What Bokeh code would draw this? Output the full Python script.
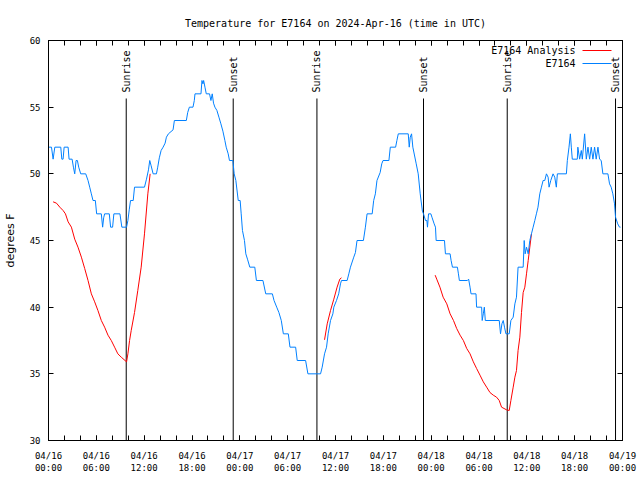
import math
from bokeh.plotting import figure
from bokeh.models import Range1d, FixedTicker, LinearAxis, Label, ColumnDataSource
from bokeh.core.properties import value
from bokeh.embed import file_html
from bokeh.resources import INLINE

# ---------------- data (hours since 2024-04-16 00:00 UTC, degrees F) ----------------
obs_hours = [0.04, 0.375, 0.58, 0.79, 1.54, 1.67, 1.83, 1.96, 2.46, 2.58, 2.96, 3.125, 3.29, 3.46, 3.625,
             3.79, 4.04, 4.67, 4.96, 5.17, 5.375, 5.58, 5.875, 6.04, 6.625, 6.79, 6.92, 7.04, 7.625, 7.79,
             8.04, 8.2, 8.96, 9.2, 9.79, 9.96, 10.125, 10.29, 10.625, 10.79, 12.04, 12.29, 12.54, 12.7,
             12.875, 13.125, 13.54, 13.7, 13.9, 14.125, 14.375, 14.625, 14.79, 15.04, 15.625, 15.79, 17.29,
             17.46, 17.67, 18.125, 18.29, 18.375, 19.125, 19.25, 19.375, 19.46, 19.625, 19.79, 20.2, 20.375,
             20.54, 20.7, 20.875, 21.125, 21.375, 21.625, 21.875, 22.125, 22.29, 22.54, 22.7, 23.125, 23.29,
             23.5, 23.8, 24.04, 24.17, 24.33, 24.58, 24.75, 24.96, 25.25, 25.875, 26.08, 26.9, 27.25, 28.08,
             28.29, 28.625, 28.9, 29.2, 29.46, 30.08, 30.29, 31.0, 31.2, 32.25, 32.54, 34.125, 34.33, 34.625,
             34.875, 35.08, 35.375, 35.67, 35.79, 36.125, 36.4, 36.625, 36.75, 37.46, 37.67, 37.875, 38.29,
             38.5, 38.7, 39.5, 39.75, 39.96, 40.6, 40.79, 41.0, 41.2, 41.6, 41.8, 41.96, 42.7, 42.875, 43.54,
             43.7, 43.875, 45.125, 45.25, 45.375, 45.54, 45.7, 46.125, 46.375, 46.625, 46.9, 47.04, 47.29,
             47.46, 47.54, 47.67, 47.96, 48.125, 48.375, 48.54, 48.625, 49.67, 49.79, 50.375, 50.5, 50.67,
             51.29, 51.42, 51.54, 52.54, 52.7, 52.875, 53.0, 53.625, 53.7, 54.33, 54.4, 54.54, 54.67, 54.79,
             56.54, 56.7, 56.875, 57.04, 57.2, 57.375, 57.79, 58.0, 58.29, 58.5, 58.7, 58.9, 59.54, 59.67,
             59.79, 59.96, 60.17, 60.375, 60.58, 60.79, 61.0, 61.2, 61.4, 61.625, 61.83, 62.04, 62.25, 62.46,
             62.67, 62.79, 63.0, 63.29, 63.5, 63.7, 63.83, 64.96, 65.08, 65.29, 65.46, 65.58, 65.7, 66.33,
             66.4, 66.625, 66.83, 66.96, 67.25, 67.46, 67.67, 67.875, 68.08, 68.29, 68.5, 68.7, 68.92, 69.125,
             69.33, 69.54, 70.17, 70.375, 70.58, 70.79, 71.0, 71.125, 71.4, 71.625, 71.75]
obs_temps = [52, 52, 51.1, 52, 52, 51.1, 51.1, 52, 52, 51.1, 51.1, 50.5, 50, 51, 51,
             50.5, 50, 50, 49.5, 49, 48.5, 48, 48, 47, 47, 46, 46.7, 47, 47, 46,
             46, 47, 47, 46, 46, 46.5, 47.3, 48, 48, 49, 49, 49.6, 50.3, 51,
             50.6, 50, 50, 50.5, 51.2, 51.75, 52, 52.3, 52.75, 53, 53.3, 54, 54,
             54.6, 55, 55, 55.5, 56, 56, 57, 56.75, 57, 56.5, 56, 56, 55.5,
             56, 55.3, 55, 54.75, 54.25, 53.75, 53.2, 52.5, 52, 51.5, 51, 51, 50,
             49.5, 48, 48, 47, 45.75, 45, 44, 43.6, 43, 43, 42, 42, 41, 41,
             40.5, 40, 39.6, 39, 38, 38, 37, 37, 36, 36, 35, 35, 35.5, 36.5,
             37, 38, 39, 39.5, 40, 40.5, 41, 41.75, 42, 42, 42.5, 43, 43.75,
             44.1, 45, 45, 46, 47, 47, 48, 48.5, 49.5, 50.1, 50.75, 51, 51, 52, 52,
             52.5, 53, 53, 52, 52.75, 53, 52, 50.75, 50, 48.5, 47.2, 47, 46.5,
             46.5, 46, 47, 47, 46.7, 46.25, 46, 45, 45, 44, 44, 43.5, 43,
             43, 42.5, 42, 42, 42.1, 41.5, 41, 41, 40, 40, 39, 39.5, 40, 39,
             39, 38, 38.75, 39, 38.5, 38, 38, 39, 39.25, 40.25, 40.75, 43, 43, 45,
             44, 44.5, 44, 45, 45.5, 46, 46.5, 47, 47.5, 48.5, 49, 49.5, 49.5, 50,
             49.75, 49, 49.5, 50, 49.75, 49, 50, 50, 51, 52, 53, 52, 51.1, 51.1,
             52, 51.1, 51.75, 51.1, 53, 51.1, 52, 51.1, 52, 51.1, 52, 51.1, 52, 51.1,
             51, 50, 50, 49.25, 49, 48.5, 47.75, 46.75, 46.25, 46, 46]

nan = float("nan")
ana_hours = [0.58, 1.0, 1.42, 1.83, 2.125, 2.46, 2.875, 3.29, 3.7, 4.125, 4.54, 4.96, 5.375, 5.79, 6.2,
             6.625, 7.04, 7.46, 7.875, 8.29, 8.7, 9.125, 9.79, 9.96, 10.17, 10.375, 10.79, 11.2, 11.625,
             12.04, 12.46, 12.75, 13.0,
             34.625, 34.96, 35.375, 35.79, 36.2, 36.54, 36.75, 37.0,
             48.5, 48.7, 49.1, 49.5, 49.96, 50.375, 50.8, 51.2, 51.625, 52.04, 52.46, 52.875, 53.29, 53.7,
             54.125, 54.54, 54.96, 55.375, 55.79, 56.2, 56.54, 56.83, 57.46, 57.79, 58.0, 58.29, 58.5, 58.7,
             58.9, 59.125, 59.33, 59.54, 59.75, 59.96, 60.17, 60.375, 60.58]
ana_temps = [47.9, 47.8, 47.5, 47.25, 47, 46.4, 46, 45.1, 44.5, 43.75, 42.9, 42, 41, 40.4, 39.75,
             39, 38.5, 37.9, 37.5, 37, 36.5, 36.25, 35.9, 36.5, 37.5, 38.25, 39.6, 41.25, 43,
             45.5, 48.5, 50, nan,
             37.55, 38.75, 39.75, 40.6, 41.5, 42.1, 42.2, nan,
             42.4, 42.1, 41.5, 40.75, 40.25, 39.5, 39, 38.4, 37.9, 37.5, 36.9, 36.5, 35.9, 35.4,
             34.9, 34.4, 34, 33.6, 33.4, 33.25, 33, 32.5, 32.3, 32.25, 33, 34, 34.75, 35.25,
             36.75, 37.75, 39.6, 41.1, 41.5, 42.5, 43.5, 44.5, 45.5]

sun_hours = [9.75, 23.17, 33.67, 47.04, 57.54, 71.125]
sun_labels = ["Sunrise", "Sunset", "Sunrise", "Sunset", "Sunrise", "Sunset"]

tick_hours = [0, 6, 12, 18, 24, 30, 36, 42, 48, 54, 60, 66, 72]
tick_dates = ["04/16", "04/16", "04/16", "04/16", "04/17", "04/17", "04/17", "04/17",
              "04/18", "04/18", "04/18", "04/18", "04/19"]
tick_times = ["00:00", "06:00", "12:00", "18:00", "00:00", "06:00", "12:00", "18:00",
              "00:00", "06:00", "12:00", "18:00", "00:00"]
minor_hours = list(range(0, 73, 2))
y_ticks = [30, 35, 40, 45, 50, 55, 60]

TITLE = "Temperature for E7164 on 2024-Apr-16 (time in UTC)"
Y_LABEL = "degrees F"
SERIES = ["E7164 Analysis", "E7164"]
COLORS = ["#ff0000", "#0080ff"]

# ---------------- layout ----------------
X0, X1, Y0, Y1 = 0, 72, 30, 60
FW, FH = 574, 400
PXH = FW / (X1 - X0)    # px per hour
PXD = FH / (Y1 - Y0)    # px per degree
MONO = "DejaVu Sans Mono"

p = figure(frame_width=FW, frame_height=FH, x_range=Range1d(X0, X1), y_range=Range1d(Y0, Y1),
           output_backend="svg", toolbar_location=None,
           min_border_left=47, min_border_top=40, min_border_right=19, min_border_bottom=38,
           background_fill_color="white", border_fill_color="white")
p.xgrid.visible = False
p.ygrid.visible = False
p.outline_line_color = "black"
p.outline_line_width = 1

p.title.text = TITLE
p.title.align = "center"
p.title.text_font = MONO
p.title.text_font_size = "10px"
p.title.text_font_style = "normal"
p.title.text_color = "black"
p.title.standoff = 24

xt = FixedTicker(ticks=tick_hours, minor_ticks=minor_hours)
yt = FixedTicker(ticks=y_ticks, minor_ticks=[])

for ax in p.xaxis:
    ax.ticker = xt
    ax.major_label_overrides = {h: d + "\n" + t for h, d, t in zip(tick_hours, tick_dates, tick_times)}
for ax in p.yaxis:
    ax.ticker = yt

def style(ax, labels=True):
    ax.axis_line_color = "black"
    ax.major_tick_line_color = "black"
    ax.minor_tick_line_color = "black"
    ax.major_tick_in = 5
    ax.major_tick_out = 0
    ax.minor_tick_in = 5
    ax.minor_tick_out = 0
    ax.major_label_text_font = MONO
    ax.major_label_text_font_size = "9px"
    ax.major_label_text_color = "black"
    ax.major_label_standoff = 8
    if not labels:
        ax.major_label_text_alpha = 0
        ax.major_label_text_font_size = "1px"
        ax.major_label_standoff = 0

for ax in p.xaxis:
    style(ax)
    ax.major_label_standoff = 10
for ax in p.yaxis:
    style(ax)
    ax.axis_label = Y_LABEL
    ax.axis_label_text_font = "DejaVu Sans"
    ax.axis_label_text_font_size = "11px"
    ax.axis_label_text_font_style = "normal"
    ax.axis_label_text_color = "black"
    ax.axis_label_standoff = 10

top = LinearAxis(ticker=xt)
style(top, labels=False)
p.add_layout(top, "above")
right = LinearAxis(ticker=yt)
style(right, labels=False)
p.add_layout(right, "right")

# sunrise / sunset markers
sun_src = ColumnDataSource(dict(x=sun_hours, label=sun_labels,
                                y0=[Y0] * len(sun_hours), y1=[Y1 - 58 / PXD] * len(sun_hours),
                                ty=[Y1 - 52 / PXD] * len(sun_hours)))
p.segment(x0="x", x1="x", y0="y0", y1="y1", source=sun_src, line_color="black", line_width=1)
p.text(x="x", y="ty", text="label", source=sun_src, angle=math.pi / 2,
       text_align="left", text_baseline="middle", text_font=value(MONO),
       text_font_size="10px", text_color="black")

# data lines
p.line(ana_hours, ana_temps, line_color=COLORS[0], line_width=1)
p.line(obs_hours, obs_temps, line_color=COLORS[1], line_width=1)

# legend (text left of sample line, top right inside the frame)
for i, (name, col) in enumerate(zip(SERIES, COLORS)):
    ly = Y1 - (10 + 13 * i) / PXD
    p.add_layout(Label(x=X1 - 47 / PXH, y=ly, text=name, text_align="right", text_baseline="middle",
                       text_font=MONO, text_font_size="10px", text_color="black"))
    p.segment(x0=[X1 - 40 / PXH], x1=[X1 - 11 / PXH], y0=[ly], y1=[ly], line_color=col, line_width=1)

open("out.html", "w").write(file_html(p, INLINE))
